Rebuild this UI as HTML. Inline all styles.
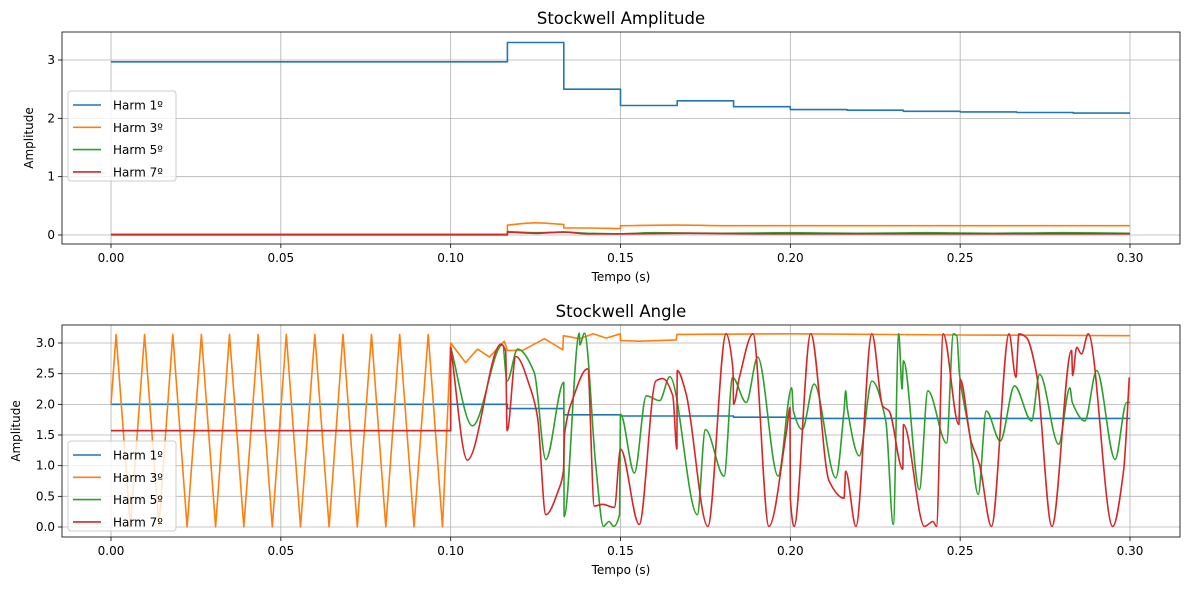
<!DOCTYPE html>
<html><head><meta charset="utf-8"><style>
body{margin:0;background:#fff;font-family:"Liberation Sans","DejaVu Sans",sans-serif}
svg text{font-family:"DejaVu Sans","Liberation Sans",sans-serif;fill:#000}
</style></head><body>
<svg id="c" width="1189" height="590"></svg>
<script>
// ---- data ----
const xTicks=[0,0.05,0.10,0.15,0.20,0.25,0.30];
const xTickLabels=["0.00","0.05","0.10","0.15","0.20","0.25","0.30"];
const ampTicks=[0,1,2,3];
const angTicks=[0,0.5,1,1.5,2,2.5,3];
const angTickLabels=["0.0","0.5","1.0","1.5","2.0","2.5","3.0"];
const seriesNames=["Harm 1º","Harm 3º","Harm 5º","Harm 7º"];
// amplitude
const ampH1T=[0,0.1167,0.1167,0.1333,0.1333,0.15,0.15,0.1667,0.1667,0.1833,0.1833,0.2,0.2,0.2167,0.2167,0.2333,0.2333,0.25,0.25,0.2667,0.2667,0.2833,0.2833,0.3];
const ampH1V=[2.97,2.97,3.30,3.30,2.50,2.50,2.22,2.22,2.30,2.30,2.20,2.20,2.15,2.15,2.14,2.14,2.12,2.12,2.11,2.11,2.10,2.10,2.09,2.09];
const ampH3T=[0,0.1167,0.1167,0.125,0.1333,0.1333,0.14,0.15,0.15,0.1667,0.1833,0.3];
const ampH3V=[0.01,0.01,0.17,0.21,0.18,0.12,0.12,0.11,0.16,0.17,0.16,0.16];
const ampH5T=[0,0.1167,0.1167,0.125,0.1333,0.14,0.15,0.16,0.18,0.2,0.22,0.24,0.26,0.28,0.3];
const ampH5V=[0.0,0.0,0.06,0.04,0.05,0.03,0.02,0.04,0.03,0.04,0.03,0.04,0.03,0.04,0.03];
const ampH7T=[0,0.1167,0.1167,0.125,0.1333,0.14,0.15,0.17,0.19,0.21,0.23,0.25,0.27,0.29,0.3];
const ampH7V=[0.01,0.01,0.05,0.03,0.05,0.02,0.02,0.03,0.02,0.02,0.02,0.02,0.02,0.02,0.02];
// angle
const angH1T=[0,0.1167,0.1167,0.1333,0.1333,0.15,0.15,0.1833,0.1833,0.2,0.2,0.3];
const angH1V=[2.0,2.0,1.93,1.93,1.83,1.83,1.81,1.81,1.79,1.79,1.77,1.77];
const angH3T=[0,0.0015,0.0057,0.0099,0.0141,0.0182,0.0224,0.0266,0.0308,0.0349,0.0391,0.0433,0.0475,0.0516,0.0558,0.0600,0.0642,0.0683,0.0725,0.0767,0.0809,0.0850,0.0892,0.0934,0.0976,0.1,0.1044,0.1079,0.1114,0.1158,0.1167,0.1212,0.1276,0.1330,0.1332,0.138,0.142,0.1458,0.1499,0.150,0.1556,0.1664,0.1666,0.2,0.25,0.3];
const angH3V=[2.0,3.14,0,3.14,0,3.14,0,3.14,0,3.14,0,3.14,0,3.14,0,3.14,0,3.14,0,3.14,0,3.14,0,3.14,0,3.0,2.68,2.90,2.77,3.03,2.88,2.88,3.07,2.89,3.12,3.07,3.15,3.08,3.15,3.04,3.03,3.05,3.14,3.15,3.13,3.12];
const angH5T=[0,0.1,0.1,0.1064,0.1153,0.1166,0.1197,0.1246,0.128,0.1333,0.1334,0.1379,0.138,0.1394,0.1427,0.145,0.1466,0.148,0.1497,0.150,0.1541,0.1576,0.1615,0.1645,0.1726,0.175,0.1805,0.183,0.187,0.1904,0.1964,0.2004,0.2009,0.2035,0.207,0.2134,0.2158,0.2163,0.2168,0.2203,0.224,0.2281,0.2303,0.2319,0.2329,0.2333,0.238,0.2405,0.246,0.248,0.249,0.2498,0.2528,0.2553,0.2577,0.2618,0.266,0.271,0.2734,0.279,0.2823,0.283,0.2867,0.2902,0.2956,0.299,0.3];
const angH5V=[1.57,1.57,2.93,1.65,2.97,2.38,2.90,2.52,1.10,2.36,0.17,3.16,2.97,3.16,1.02,0.01,0.09,0.01,0.2,1.84,0.88,2.14,2.06,2.45,0.2,1.59,0.83,2.44,2.03,2.77,0.83,2.27,1.89,1.59,2.33,0.80,1.89,2.22,1.92,1.16,2.38,1.73,0.04,3.15,2.25,2.71,0.61,2.22,1.37,3.15,3.12,2.49,1.51,0.53,1.89,1.40,2.30,1.73,2.49,1.35,2.27,2.03,1.73,2.55,1.10,2.03,2.03];
const angH7T=[0,0.1,0.1,0.1049,0.1148,0.1162,0.1166,0.1192,0.1237,0.1256,0.128,0.132,0.1332,0.1335,0.1359,0.1403,0.1423,0.1447,0.1482,0.150,0.1555,0.1604,0.1624,0.1654,0.1666,0.1667,0.1693,0.1757,0.1811,0.1831,0.1833,0.185,0.189,0.1937,0.1989,0.1999,0.2,0.2011,0.206,0.2114,0.2158,0.2163,0.2193,0.224,0.2272,0.2291,0.2331,0.2333,0.2395,0.242,0.243,0.245,0.2496,0.25,0.2532,0.2557,0.2592,0.2644,0.2664,0.2673,0.2695,0.2725,0.277,0.2828,0.2831,0.2843,0.2857,0.2877,0.2949,0.2981,0.2998];
const angH7V=[1.57,1.57,2.93,1.09,2.98,2.87,1.57,2.78,2.22,1.78,0.20,0.64,0.91,1.51,2.08,2.58,0.34,0.37,0.32,1.27,0.04,2.38,2.42,2.14,1.27,2.55,2.17,0.01,3.15,2.58,2.0,2.44,3.15,0.01,1.57,1.95,0.47,0.01,3.15,0.75,0.47,0.91,0.01,3.15,1.97,1.89,0.94,1.67,0.01,0.09,0.01,3.15,1.67,2.41,1.40,1.02,0.01,3.15,2.44,3.15,3.09,2.49,0.01,2.88,2.47,2.93,2.82,3.15,0.01,0.91,2.44];

const colors=["#1f77b4","#ff7f0e","#2ca02c","#d62728"];
const NS="http://www.w3.org/2000/svg";
const svg=document.getElementById('c');
function mk(tag,attrs,parent){const e=document.createElementNS(NS,tag);for(const k in attrs)e.setAttribute(k,attrs[k]);(parent||svg).appendChild(e);return e;}
const X0=62,X1=1180;
const xs=t=>111+t*(1130-111)/0.3;

function smoothPath(P){
  const n=P.length;let d='M'+P[0][0].toFixed(1)+','+P[0][1].toFixed(1);
  const m=new Array(n).fill(0),s=[];
  for(let i=0;i<n-1;i++){const dx=P[i+1][0]-P[i][0];s.push(dx<0.01?null:(P[i+1][1]-P[i][1])/dx);}
  for(let i=0;i<n;i++){
    const a=i>0?s[i-1]:null,b=i<n-1?s[i]:null;
    if(a==null&&b==null)m[i]=0;else if(a==null)m[i]=b;else if(b==null)m[i]=a;
    else m[i]=(a*b<=0)?0:2*a*b/(a+b);
  }
  for(let i=0;i<n-1;i++){
    const[x0,y0]=P[i],[x1,y1]=P[i+1],dx=x1-x0;
    if(s[i]==null){d+='L'+x1.toFixed(1)+','+y1.toFixed(1);continue;}
    d+='C'+(x0+dx/3).toFixed(1)+','+(y0+m[i]*dx/3).toFixed(1)+' '+(x1-dx/3).toFixed(1)+','+(y1-m[i+1]*dx/3).toFixed(1)+' '+x1.toFixed(1)+','+y1.toFixed(1);
  }
  return d;
}

function panel(cfg){
  const g=mk('g',{});
  
  
  const ys=cfg.ys;
  xTicks.forEach((t,i)=>{
    const l=mk('line',{x1:xs(t),x2:xs(t),y1:cfg.top,y2:cfg.bot,stroke:'#b0b0b0','stroke-width':0.8},g);
    
    
    mk('line',{x1:xs(t),x2:xs(t),y1:cfg.bot,y2:cfg.bot+4,stroke:'#000','stroke-width':0.8},g);
    const tx=mk('text',{x:xs(t),y:cfg.bot+18,'font-size':12,'text-anchor':'middle'},g);
    tx.textContent=xTickLabels[i];
    
    
  });
  cfg.yt.forEach((v,i)=>{
    const l=mk('line',{x1:X0,x2:X1,y1:ys(v),y2:ys(v),stroke:'#b0b0b0','stroke-width':0.8},g);
    
    
    mk('line',{x1:X0-4,x2:X0,y1:ys(v),y2:ys(v),stroke:'#000','stroke-width':0.8},g);
    const tx=mk('text',{x:X0-7,y:ys(v)+4,'font-size':12,'text-anchor':'end'},g);
    tx.textContent=cfg.ytl[i];
    
    
  });
  cfg.series.forEach((s,i)=>{
    const P=s[0].map((t,j)=>[xs(t),ys(s[1][j])]);
    const d=s[2]?smoothPath(P):P.map((p,j)=>(j?'L':'M')+p[0].toFixed(1)+','+p[1].toFixed(1)).join('');
    const p=mk('path',{d:d,fill:'none',stroke:colors[i],'stroke-width':1.6,'stroke-linejoin':'round'},g);
    
    
  });
  const fr=mk('rect',{x:X0,y:cfg.top,width:X1-X0,height:cfg.bot-cfg.top,fill:'none',stroke:'#000','stroke-width':0.8},g);
  
  
  const ti=mk('text',{x:(X0+X1)/2,y:cfg.top-8,'font-size':16.5,'text-anchor':'middle'},g);
  ti.textContent=cfg.title;
  
  
  const xl=mk('text',{x:(X0+X1)/2,y:cfg.bot+37,'font-size':12,'text-anchor':'middle'},g);
  xl.textContent='Tempo (s)';
  
  
  const yl=mk('text',{x:cfg.ylx,y:(cfg.top+cfg.bot)/2,'font-size':12,'text-anchor':'middle',transform:`rotate(-90 ${cfg.ylx} ${(cfg.top+cfg.bot)/2})`},g);
  yl.textContent='Amplitude';
  
  
  const lg=mk('g',{},g);
  
  
  mk('rect',{x:68,y:cfg.ly,width:108,height:90,rx:3,fill:'#fff','fill-opacity':0.8,stroke:'#ccc'},lg);
  seriesNames.forEach((n,i)=>{
    const yy=cfg.ly+14+i*22.3;
    const e=mk('g',{},lg);
    
    
    mk('line',{x1:73,x2:101,y1:yy,y2:yy,stroke:colors[i],'stroke-width':1.6},e);
    const t=mk('text',{x:113,y:yy+4.5,'font-size':12},e);
    t.textContent=n;
  });
}
panel({name:'amplitude-panel',top:32,bot:244,ys:v=>235-v*58.33,yt:ampTicks,ytl:["0","1","2","3"],title:'Stockwell Amplitude',ylx:33,ly:91,
  series:[[ampH1T,ampH1V,false],[ampH3T,ampH3V,true],[ampH5T,ampH5V,true],[ampH7T,ampH7V,true]]});
panel({name:'angle-panel',top:325,bot:537,ys:v=>527-v*61.33,yt:angTicks,ytl:angTickLabels,title:'Stockwell Angle',ylx:20,ly:441,
  series:[[angH1T,angH1V,false],[angH3T,angH3V,false],[angH5T,angH5V,true],[angH7T,angH7V,true]]});
</script>
</body></html>
